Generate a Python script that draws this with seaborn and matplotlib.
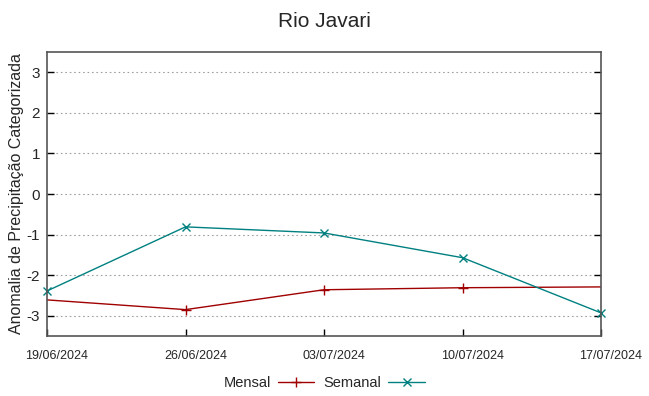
import pandas as pd
import numpy as np
import matplotlib
matplotlib.use("Agg")
import matplotlib.pyplot as plt
import matplotlib.transforms as mtransforms
import seaborn as sns

# dados
datas = ["19/06/2024", "26/06/2024", "03/07/2024", "10/07/2024", "17/07/2024"]
mensal = [-2.61, -2.85, -2.36, -2.31, -2.29]
semanal = [-2.39, -0.81, -0.96, -1.57, -2.93]
yticks = [-3, -2, -1, 0, 1, 2, 3]

sns.set_style("white")
plt.rcParams['font.family'] = ['Liberation Sans', 'DejaVu Sans']

df = pd.DataFrame({
    "data": pd.to_datetime(datas, format="%d/%m/%Y"),
    "Mensal": mensal,
    "Semanal": semanal,
})

fig = plt.figure(figsize=(6.49, 3.96), dpi=100)
ax = fig.add_axes([47 / 649, 60 / 396, 554 / 649, 284 / 396])

sns.lineplot(data=df, x="data", y="Mensal", ax=ax, color="#a00000", lw=1,
             marker="+", markersize=7, markeredgewidth=1,
             markeredgecolor="#a00000",
             markevery=[1, 2, 3], label="Mensal")
sns.lineplot(data=df, x="data", y="Semanal", ax=ax, color="#008080", lw=1,
             marker="x", markersize=5.5, markeredgewidth=1,
             markeredgecolor="#008080",
             label="Semanal", clip_on=False)

ax.set_xlim(df["data"].iloc[0], df["data"].iloc[-1])
ax.set_ylim(-3.5, 3.5)
ax.set_xticks(df["data"])
ax.set_xticklabels(datas, fontsize=9)
ax.set_yticks(yticks)
ax.set_yticklabels([str(v) for v in yticks], fontsize=11)
ax.tick_params(axis="x", direction="in", length=5, width=1, color="black",
               bottom=True, top=False, pad=10)
ax.tick_params(axis="y", direction="in", length=5, width=1, color="black",
               left=True, right=True, pad=5)
# rotulos de data deslocados p/ direita como no original
shift = mtransforms.ScaledTranslation(0.1, 0, fig.dpi_scale_trans)
for lbl in ax.get_xticklabels():
    lbl.set_transform(lbl.get_transform() + shift)
ax.yaxis.grid(True, linestyle=(0, (1.5, 2.5)), color="#a0a0a0", lw=0.8)
ax.xaxis.grid(False)
for s in ax.spines.values():
    s.set_color("#555555")
    s.set_linewidth(1.2)

ax.set_xlabel("")
ax.set_ylabel("Anomalia de Precipitação Categorizada", fontsize=11.5, labelpad=2)
ax.set_title("Rio Javari", fontsize=15, pad=18)

ax.legend(loc="center", bbox_to_anchor=(0.5, -0.165), ncol=2,
          frameon=False, markerfirst=False, fontsize=10.5, handlelength=2.5,
          columnspacing=0.6, handletextpad=0.5, borderaxespad=0)

fig.savefig("out.png", dpi=100)
